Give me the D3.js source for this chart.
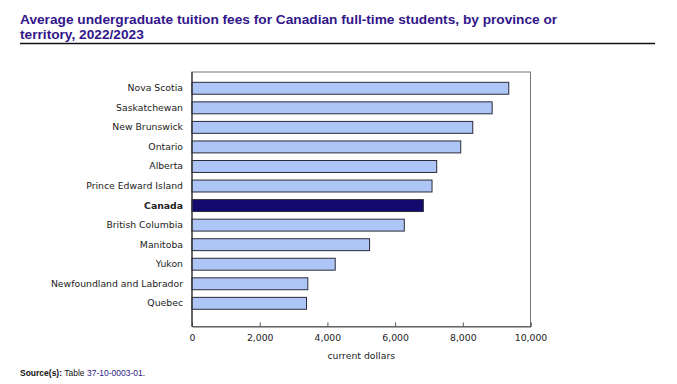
<!DOCTYPE html>
<meta charset="utf-8">
<script src="https://d3js.org/d3.v7.min.js"></script>
<style>
  body { margin: 0; background: #fff; }
  text { font-family: "DejaVu Sans", Verdana, sans-serif; }
</style>
<div id="chart"></div>
<script>

// data (top to bottom)
var provinces = ["Nova Scotia", "Saskatchewan", "New Brunswick", "Ontario", "Alberta",
  "Prince Edward Island", "Canada", "British Columbia", "Manitoba", "Yukon",
  "Newfoundland and Labrador", "Quebec"];
var fees = [9358, 8867, 8294, 7939, 7229, 7091, 6834, 6272, 5246, 4231, 3422, 3383];
var xTicks = [0, 2000, 4000, 6000, 8000, 10000];

var W = 677, H = 384;
var plot = {left: 192, right: 530.5, top: 72, bottom: 326.5};

var svg = d3.select("#chart").append("svg")
  .attr("width", W).attr("height", H);

// title
var title = svg.append("text")
  .attr("x", 20).attr("y", 24)
  .style("font-family", "'Liberation Sans', Arial, sans-serif")
  .style("font-size", "13.7px").style("font-weight", "bold")
  .attr("fill", "#32168a");
title.append("tspan").attr("x", 20).attr("y", 23.5)
  .text("Average undergraduate tuition fees for Canadian full-time students, by province or");
title.append("tspan").attr("x", 20).attr("y", 38.5)
  .text("territory, 2022/2023");

svg.append("line")
  .attr("x1", 20).attr("x2", 655).attr("y1", 43.5).attr("y2", 43.5)
  .attr("stroke", "#111").attr("stroke-width", 1.5);

// scales
var x = d3.scaleLinear().domain([0, 10000]).range([plot.left, plot.right]);
var y = d3.scaleBand().domain(provinces)
  .range([78.5, 313.1])
  .paddingInner(0.39).paddingOuter(0.195);

// frame
svg.append("rect")
  .attr("x", plot.left).attr("y", plot.top)
  .attr("width", plot.right - plot.left).attr("height", plot.bottom - plot.top)
  .attr("fill", "none").attr("stroke", "#777").attr("stroke-width", 1);

// bars
svg.selectAll("rect.bar")
  .data(provinces)
  .enter().append("rect")
  .attr("class", "bar")
  .attr("x", x(0))
  .attr("y", function(d) { return y(d); })
  .attr("width", function(d, i) { return x(fees[i]) - x(0); })
  .attr("height", y.bandwidth())
  .attr("fill", function(d) { return d == "Canada" ? "#120a6e" : "#aec6f6"; })
  .attr("stroke", "#2a2a3a").attr("stroke-width", 1);

// category labels
svg.append("g")
  .attr("transform", "translate(" + plot.left + ",0)")
  .call(d3.axisLeft(y).tickSize(0).tickPadding(9))
  .call(function(g) { g.select(".domain").remove(); })
  .selectAll("text")
  .style("font-family", "'DejaVu Sans', Verdana, sans-serif")
  .style("font-size", "9.3px")
  .attr("fill", "#222")
  .style("font-weight", function(d) { return d == "Canada" ? "bold" : "normal"; });

// x axis
var xa = svg.append("g")
  .attr("transform", "translate(0," + plot.bottom + ")")
  .call(d3.axisBottom(x).tickValues(xTicks).tickFormat(d3.format(",")).tickSize(-4).tickPadding(8));
xa.select(".domain").attr("stroke", "#555");
xa.selectAll(".tick line").attr("stroke", "#555");
xa.selectAll("text")
  .style("font-family", "'DejaVu Sans', Verdana, sans-serif")
  .style("font-size", "9.3px").attr("fill", "#222");

// left axis line
svg.append("line")
  .attr("x1", plot.left).attr("x2", plot.left)
  .attr("y1", plot.top).attr("y2", plot.bottom)
  .attr("stroke", "#333").attr("stroke-width", 1.2);

svg.append("text")
  .attr("x", (plot.left + plot.right) / 2).attr("y", 359)
  .attr("text-anchor", "middle")
  .style("font-size", "9.3px").attr("fill", "#222")
  .text("current dollars");

// source
var src = svg.append("text")
  .attr("x", 20).attr("y", 376)
  .style("font-family", "'Liberation Sans', Arial, sans-serif")
  .style("font-size", "8.5px").attr("fill", "#111");
src.append("tspan").style("font-weight", "bold").text("Source(s):");
src.append("tspan").text(" Table ");
src.append("tspan").attr("fill", "#2f1a86").text("37-10-0003-01");
src.append("tspan").text(".");

</script>
